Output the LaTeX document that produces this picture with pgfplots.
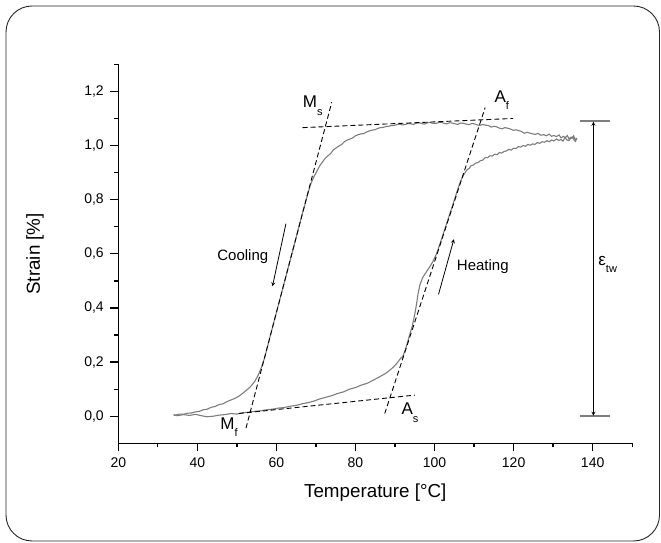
\documentclass[border=0pt]{standalone}
\usepackage{fontspec}
\setmainfont{Liberation Sans}
\usepackage{pgfplots}
\pgfplotsset{compat=1.18}
\definecolor{curve}{RGB}{125,125,125}
\begin{document}
\begin{tikzpicture}[x=1pt,y=1pt]
\useasboundingbox (0,0) rectangle (661,543);
\draw[rounded corners=26pt, line width=0.9pt, black!85] (6,2) rectangle (659.5,537);
\begin{axis}[
  at={(118.3pt,99.7pt)}, anchor=south west,
  width=513.9pt, height=379pt, scale only axis,
  xmin=20, xmax=150, ymin=-0.1, ymax=1.3,
  axis lines=left, axis line style={-, line width=1.4pt},
  tick align=outside, major tick length=8pt, minor tick length=4pt,
  every tick/.style={line width=1.3pt, black},
  xtick={20,40,60,80,100,120,140},
  minor xtick={30,50,70,90,110,130,150},
  ytick={0,0.2,0.4,0.6,0.8,1.0,1.2},
  minor ytick={0.1,0.3,0.5,0.7,0.9,1.1,1.3},
  /pgf/number format/assume math mode=true,
  yticklabel style={/pgf/number format/.cd, fixed, fixed zerofill, precision=1, use comma, /tikz/.cd, xshift=-3pt},
  xticklabel style={yshift=-3pt},
  ticklabel style={font=\fontsize{14}{14}\selectfont},
  xlabel={Temperature [°C]}, ylabel={Strain [\%]},
  label style={font=\fontsize{18.8}{18.8}\selectfont},
  xlabel style={at={(axis description cs:0.5,-0.131)}, anchor=center},
  ylabel style={at={(axis description cs:-0.162,0.5)}, anchor=center},
  clip=false,
]
% cooling branch
\addplot[curve, line width=1.1pt, no marks] coordinates {
(136.0,1.028)(135.6,1.020)(135.2,1.036)(134.8,1.026)(134.5,1.031)(134.0,1.024)(133.6,1.037)(133.1,1.029)(132.6,1.034)(132.0,1.028)(131.5,1.039)(130.8,1.033)(130.2,1.037)(129.6,1.034)(129.0,1.042)(128.3,1.036)(127.6,1.040)(126.9,1.038)(126.2,1.045)(125.5,1.041)(124.8,1.043)(124.1,1.046)(123.4,1.049)(122.7,1.045)(122.0,1.052)(121.3,1.055)(120.6,1.058)(119.9,1.056)(119.2,1.061)(118.5,1.064)(117.8,1.066)(117.1,1.062)(116.4,1.064)(115.7,1.069)(115.0,1.071)(114.3,1.068)(113.6,1.074)(112.9,1.075)(112.2,1.078)(111.5,1.074)(110.8,1.076)(110.1,1.080)(109.4,1.081)(108.7,1.077)(108.0,1.079)(107.3,1.082)(106.6,1.083)(105.9,1.078)(105.2,1.080)(104.5,1.083)(103.8,1.084)(103.1,1.080)(102.4,1.082)(101.7,1.086)(101.0,1.085)(100.3,1.081)(99.6,1.082)(98.9,1.085)(98.2,1.084)(97.5,1.079)(96.8,1.081)(96.1,1.084)(95.4,1.083)(94.7,1.078)(94.0,1.080)(93.3,1.081)(92.6,1.078)(91.9,1.076)(91.2,1.079)(90.5,1.077)(89.8,1.074)(89.1,1.074)(88.4,1.071)(87.7,1.070)(87.0,1.067)(86.3,1.066)(85.6,1.063)(84.9,1.058)(84.2,1.057)(83.5,1.054)(82.8,1.050)(82.1,1.044)(81.4,1.043)(80.7,1.040)(80.0,1.036)(79.3,1.028)(78.6,1.024)(77.9,1.020)(77.2,1.014)(76.5,1.004)(75.8,0.998)(75.1,0.991)(74.4,0.984)(73.7,0.970)(73.0,0.962)(72.3,0.952)(71.6,0.938)(71.0,0.926)(70.4,0.910)(69.4,0.882)(68.6,0.855)(67.9,0.820)(67.2,0.782)(66.4,0.740)(65.6,0.695)(64.8,0.650)(63.9,0.600)(63.0,0.550)(62.1,0.500)(61.2,0.450)(60.3,0.400)(59.4,0.350)(58.5,0.300)(57.7,0.255)(57.0,0.215)(56.2,0.180)(55.4,0.152)(54.5,0.128)(53.5,0.110)(52.5,0.097)(51.5,0.085)(50.5,0.074)(49.5,0.066)(48.5,0.060)(47.5,0.054)(46.5,0.046)(45.5,0.043)(44.5,0.036)(43.5,0.033)(42.5,0.026)(41.5,0.024)(40.5,0.018)(39.5,0.016)(38.5,0.012)(37.5,0.011)(36.5,0.007)(35.5,0.008)(34.5,0.004)(34.0,0.006)
};
% heating branch
\addplot[curve, line width=1.1pt, no marks] coordinates {
(34.0,0.004)(35.0,0.002)(36.5,0.006)(38.0,0.003)(39.5,0.007)(41.0,0.002)(42.5,-0.002)(44.0,0.000)(45.5,0.004)(47.0,0.006)(48.5,0.010)(50.0,0.008)(51.5,0.013)(53.0,0.015)(54.5,0.018)(56.0,0.020)(57.5,0.024)(59.0,0.026)(60.5,0.030)(62.0,0.032)(63.5,0.037)(65.0,0.040)(66.5,0.046)(68.0,0.050)(69.5,0.056)(71.0,0.064)(72.5,0.070)(74.0,0.076)(75.5,0.084)(77.0,0.090)(78.5,0.100)(80.0,0.106)(81.5,0.115)(83.0,0.122)(84.5,0.133)(86.0,0.145)(87.5,0.157)(88.5,0.168)(89.5,0.180)(90.5,0.196)(91.3,0.212)(92.0,0.222)(92.6,0.245)(93.2,0.275)(93.8,0.305)(94.4,0.335)(94.9,0.370)(95.4,0.410)(95.8,0.450)(96.3,0.486)(97.0,0.512)(98.0,0.535)(98.8,0.552)(99.6,0.572)(100.5,0.600)(101.4,0.638)(102.3,0.678)(103.2,0.718)(104.1,0.758)(105.0,0.798)(105.8,0.835)(106.5,0.865)(107.3,0.890)(108.2,0.910)(108.8,0.916)(109.2,0.925)(109.8,0.928)(110.4,0.935)(111.0,0.937)(111.6,0.944)(112.2,0.946)(112.8,0.955)(113.4,0.955)(114.0,0.962)(114.6,0.961)(115.2,0.968)(115.8,0.966)(116.4,0.974)(117.0,0.972)(117.6,0.978)(118.2,0.980)(118.8,0.986)(119.4,0.983)(120.0,0.990)(120.6,0.989)(121.2,0.996)(121.8,0.994)(122.4,1.000)(123.0,0.997)(123.6,1.004)(124.2,1.001)(124.8,1.006)(125.4,1.004)(126.0,1.011)(126.6,1.008)(127.2,1.014)(127.8,1.012)(128.4,1.018)(129.0,1.014)(129.6,1.020)(130.2,1.017)(130.8,1.024)(131.4,1.019)(132.0,1.022)(132.5,1.016)(133.0,1.030)(133.5,1.020)(134.0,1.018)(134.5,1.028)(135.0,1.032)(135.3,1.020)(135.6,1.015)(136.0,1.026)
};
% tangent lines
\addplot[black, line width=0.9pt, dash pattern=on 5pt off 3pt, no marks] coordinates {(52.3,-0.044)(74.0,1.16)};
\addplot[black, line width=0.9pt, dash pattern=on 5pt off 3pt, no marks] coordinates {(87.4,0.01)(112.8,1.14)};
\addplot[black, line width=0.9pt, dash pattern=on 5pt off 3pt, no marks] coordinates {(66.6,1.066)(119.9,1.10)};
\addplot[black, line width=0.9pt, dash pattern=on 5pt off 3pt, no marks] coordinates {(50.5,0.010)(95.0,0.078)};
% epsilon_tw
\addplot[curve, line width=1.5pt, no marks] coordinates {(136.8,1.09)(144.4,1.09)};
\addplot[curve, line width=1.5pt, no marks] coordinates {(136.8,0.0)(144.4,0.0)};
\addplot[black, line width=0.8pt, stealth-stealth, no marks] coordinates {(140.2,1.088)(140.2,0.002)};
% direction arrows
\addplot[black, line width=0.8pt, -stealth, no marks] coordinates {(62.4,0.711)(59.0,0.48)};
\addplot[black, line width=0.8pt, -stealth, no marks] coordinates {(101.0,0.45)(104.9,0.654)};
% labels
\node[font=\fontsize{17}{17}\selectfont] at (axis cs:69.2,1.146) {M\raisebox{-0.45em}{\fontsize{11}{11}\selectfont s}};
\node[font=\fontsize{17}{17}\selectfont] at (axis cs:117.0,1.168) {A\raisebox{-0.45em}{\fontsize{11}{11}\selectfont f}};
\node[font=\fontsize{17}{17}\selectfont] at (axis cs:48.0,-0.04) {M\raisebox{-0.45em}{\fontsize{11}{11}\selectfont f}};
\node[font=\fontsize{17}{17}\selectfont] at (axis cs:93.8,0.013) {A\raisebox{-0.45em}{\fontsize{11}{11}\selectfont s}};
\node[font=\fontsize{15}{15}\selectfont] at (axis cs:51.5,0.589) {Cooling};
\node[font=\fontsize{15}{15}\selectfont] at (axis cs:112.2,0.553) {Heating};
\node[font=\fontsize{17}{17}\selectfont] at (axis cs:143.8,0.56) {ε\raisebox{-0.45em}{\fontsize{11}{11}\selectfont tw}};
\end{axis}
\end{tikzpicture}
\end{document}
